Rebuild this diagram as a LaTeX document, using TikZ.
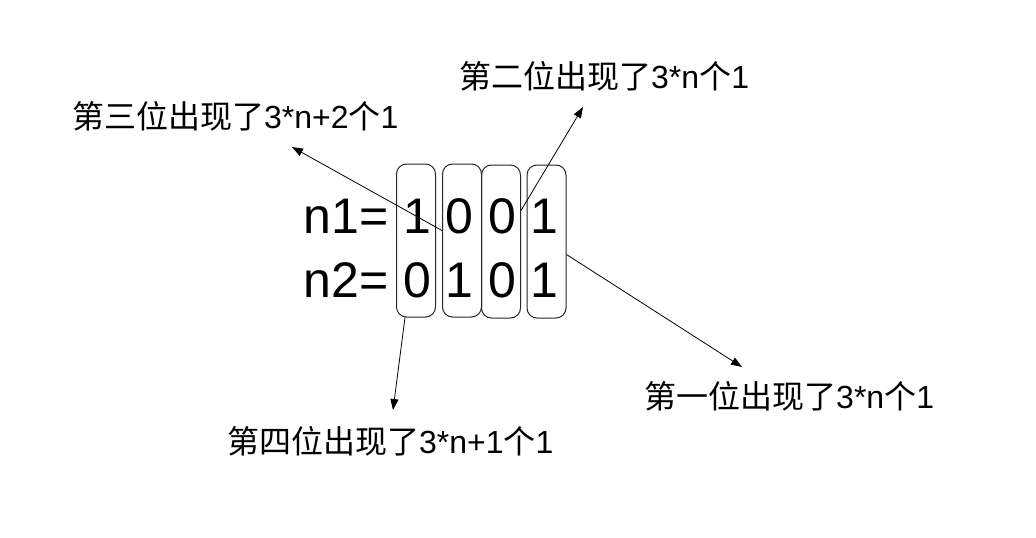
\documentclass[tikz,border=0pt]{standalone}
\usepackage{fontspec}
\setmainfont{Liberation Sans}
\newfontfamily\cjk{Noto Sans CJK SC}
\usetikzlibrary{arrows.meta}

\begin{document}
\begin{tikzpicture}[x=1pt, y=-1pt,
		bitbox/.style={draw=black!85, line width=1pt, rounded corners=10pt, minimum width=39pt, minimum height=153pt, inner sep=0pt},
		bit/.style={font=\fontsize{50}{60}\selectfont, anchor=base, inner sep=0pt},
		lbl/.style={font=\fontsize{32}{38}\selectfont, anchor=west, inner sep=0pt},
		arr/.style={line width=0.8pt, -{Triangle[length=11pt,width=8pt]}}]
			%%%%% START %%%%%
			
			\useasboundingbox (0,0) rectangle (1036,538);
			
			\node[bit, anchor=base east] (n1) at (389, 233) {n1=};
			\node[bit, anchor=base east] (n2) at (389, 297) {n2=};
			\foreach \i/\x/\a/\b in {1/417/1/0, 2/459/0/1, 3/502/0/0, 4/544/1/1} {
				\node[bit] (a\i) at (\x, 233) {\a};
				\node[bit] (b\i) at (\x, 297) {\b};
			}
			
			\node[bitbox] (col1) at (416, 240.5) {};
			\node[bitbox] (col2) at (462, 240.5) {};
			\node[bitbox] (col3) at (501, 241.5) {};
			\node[bitbox] (col4) at (546.5, 241.5) {};
			
			\node[lbl] (pos3) at (72, 116) {{\cjk 第三位出现了}3*n+2{\cjk 个}1};
			\node[lbl] (pos2) at (459, 76) {{\cjk 第二位出现了}3*n{\cjk 个}1};
			\node[lbl] (pos1) at (644, 396) {{\cjk 第一位出现了}3*n{\cjk 个}1};
			\node[lbl] (pos4) at (227, 441) {{\cjk 第四位出现了}3*n+1{\cjk 个}1};
			
			\coordinate (tip3) at (292, 147);
			\coordinate (tip2) at (583, 107);
			\coordinate (tip1) at (742, 367);
			\coordinate (tip4) at (393, 410);
			
			\draw[arr] ([yshift=10pt]col2.west) -- (tip3);
			\draw[arr] ([yshift=31pt]col3.east) -- (tip2);
			\draw[arr] ([yshift=-13pt]col4.east) -- (tip1);
			\draw[arr] ([xshift=-11pt]col1.south) -- (tip4);
			
			%%%%% END %%%%%
\end{tikzpicture}
\end{document}
